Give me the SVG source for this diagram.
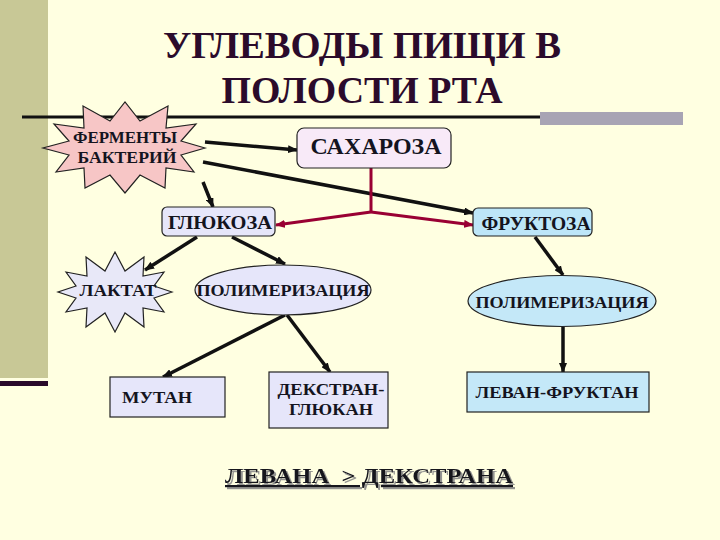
<svg xmlns="http://www.w3.org/2000/svg" width="720" height="540" viewBox="0 0 720 540">
<defs>
<style>
.t{font-family:"Liberation Serif","DejaVu Serif",serif;font-weight:bold;fill:#14141e;text-anchor:middle}
.title{font-family:"Liberation Serif","DejaVu Serif",serif;font-weight:bold;fill:#2b0b2b;text-anchor:middle;font-size:38px}
.box{stroke:#222;stroke-width:1.2}
.lav{fill:#e6e6fa}
.blue{fill:#c4e8f8}
.arr{stroke:#111;stroke-width:3.5;fill:none;marker-end:url(#ah)}
.red{stroke:#990033;stroke-width:3;fill:none}
</style>
<marker id="ah" viewBox="0 0 10 8" refX="9" refY="4" markerWidth="10" markerHeight="8" markerUnits="userSpaceOnUse" orient="auto"><path d="M0,0 L10,4 L0,8 z" fill="#111"/></marker>
<marker id="ahr" viewBox="0 0 10 8" refX="9" refY="4" markerWidth="10" markerHeight="8" markerUnits="userSpaceOnUse" orient="auto"><path d="M0,0 L10,4 L0,8 z" fill="#990033"/></marker>
<filter id="sh" x="-5%" y="-20%" width="110%" height="150%"><feDropShadow dx="2" dy="2" stdDeviation="0.6" flood-color="#888" flood-opacity="0.9"/></filter>
</defs>
<rect width="720" height="540" fill="#ffffe1"/>
<rect x="0" y="0" width="48" height="378" fill="#c8c896"/>
<rect x="0" y="381" width="48" height="5" fill="#2a0a2a"/>
<rect x="22" y="115.5" width="520" height="3" fill="#111"/>
<rect x="540" y="112" width="143" height="13" fill="#a8a4b4"/>
<g id="title">
<text class="title" x="362" y="58" textLength="398" lengthAdjust="spacingAndGlyphs">УГЛЕВОДЫ ПИЩИ В</text>
<text class="title" x="362" y="103" textLength="281" lengthAdjust="spacingAndGlyphs">ПОЛОСТИ РТА</text>
</g>
<g id="connectors">
<line class="arr" x1="205" y1="142" x2="297" y2="150"/>
<line class="arr" x1="203" y1="162" x2="473" y2="213"/>
<line class="arr" x1="203" y1="182" x2="213" y2="207"/>
<polyline class="red" points="371,168 371,212"/>
<line class="red" x1="371" y1="212" x2="276" y2="225" marker-end="url(#ahr)"/>
<line class="red" x1="371" y1="212" x2="473" y2="225" marker-end="url(#ahr)"/>
<line class="arr" x1="197" y1="237" x2="145" y2="270"/>
<line class="arr" x1="232" y1="237" x2="285" y2="264"/>
<line class="arr" x1="535" y1="237" x2="563" y2="275"/>
<line class="arr" x1="285" y1="315" x2="163" y2="377"/>
<line class="arr" x1="287" y1="315" x2="330" y2="372"/>
<line class="arr" x1="563" y1="327" x2="563" y2="372"/>
</g>
<g id="fermenty">
<polygon class="box" fill="#f7c6c6" points="205,148 181,141 196,124 166,128 168,106 140,121 125,102 110,121 83,106 84,128 54,124 69,141 43,148 69,155 56,172 84,168 85,188 110,175 125,193 140,175 165,188 166,168 194,172 181,155"/>
<text class="t" x="125" y="143" font-size="16" textLength="104" lengthAdjust="spacingAndGlyphs">ФЕРМЕНТЫ</text>
<text class="t" x="127" y="163" font-size="16" textLength="99" lengthAdjust="spacingAndGlyphs">БАКТЕРИЙ</text>
</g>
<g id="saharoza">
<rect class="box" x="297" y="128" width="154" height="40" rx="7" fill="#f8eaf8"/>
<text class="t" x="376" y="154" font-size="23" textLength="131" lengthAdjust="spacingAndGlyphs">САХАРОЗА</text>
</g>
<g id="glukoza">
<rect class="box lav" x="162" y="207" width="113" height="29" rx="5"/>
<text class="t" x="220" y="229" font-size="19" textLength="104" lengthAdjust="spacingAndGlyphs">ГЛЮКОЗА</text>
</g>
<g id="fruktoza">
<rect class="box" x="473" y="208" width="119" height="28" rx="5" fill="#bde6f8"/>
<text class="t" x="536" y="230" font-size="18" textLength="109" lengthAdjust="spacingAndGlyphs">ФРУКТОЗА</text>
</g>
<g id="laktat">
<polygon class="box" fill="#e8e8f8" points="172,292 154,286 164,272 143,276 144,257 125,271 115,252 105,271 86,257 87,276 66,272 76,286 58,292 76,298 66,312 87,308 86,327 105,313 115,332 125,313 144,327 143,308 164,312 154,298"/>
<text class="t" x="118" y="296" font-size="17" textLength="77" lengthAdjust="spacingAndGlyphs">ЛАКТАТ</text>
</g>
<g id="polim1">
<ellipse class="box lav" cx="283" cy="290" rx="88" ry="25"/>
<text class="t" x="283" y="296" font-size="16" textLength="173" lengthAdjust="spacingAndGlyphs">ПОЛИМЕРИЗАЦИЯ</text>
</g>
<g id="polim2">
<ellipse class="box blue" cx="562" cy="301" rx="94" ry="25.5"/>
<text class="t" x="562" y="308" font-size="16" textLength="173" lengthAdjust="spacingAndGlyphs">ПОЛИМЕРИЗАЦИЯ</text>
</g>
<g id="mutan">
<rect class="box lav" x="110" y="377" width="115" height="40"/>
<text class="t" x="157" y="403" font-size="17" textLength="70" lengthAdjust="spacingAndGlyphs">МУТАН</text>
</g>
<g id="dekstran">
<rect class="box lav" x="269" y="372" width="119" height="56"/>
<text class="t" x="331" y="395" font-size="17" textLength="107" lengthAdjust="spacingAndGlyphs">ДЕКСТРАН-</text>
<text class="t" x="331" y="415" font-size="17" textLength="84" lengthAdjust="spacingAndGlyphs">ГЛЮКАН</text>
</g>
<g id="levan">
<rect class="box blue" x="467" y="372" width="182" height="40"/>
<text class="t" x="557" y="398" font-size="17" textLength="163" lengthAdjust="spacingAndGlyphs">ЛЕВАН-ФРУКТАН</text>
</g>
<g id="note">
<text class="t" x="369" y="483" font-size="22" xml:space="preserve" text-decoration="underline" textLength="288" lengthAdjust="spacingAndGlyphs" filter="url(#sh)">ЛЕВАНА  &gt; ДЕКСТРАНА</text>
</g>
</svg>
